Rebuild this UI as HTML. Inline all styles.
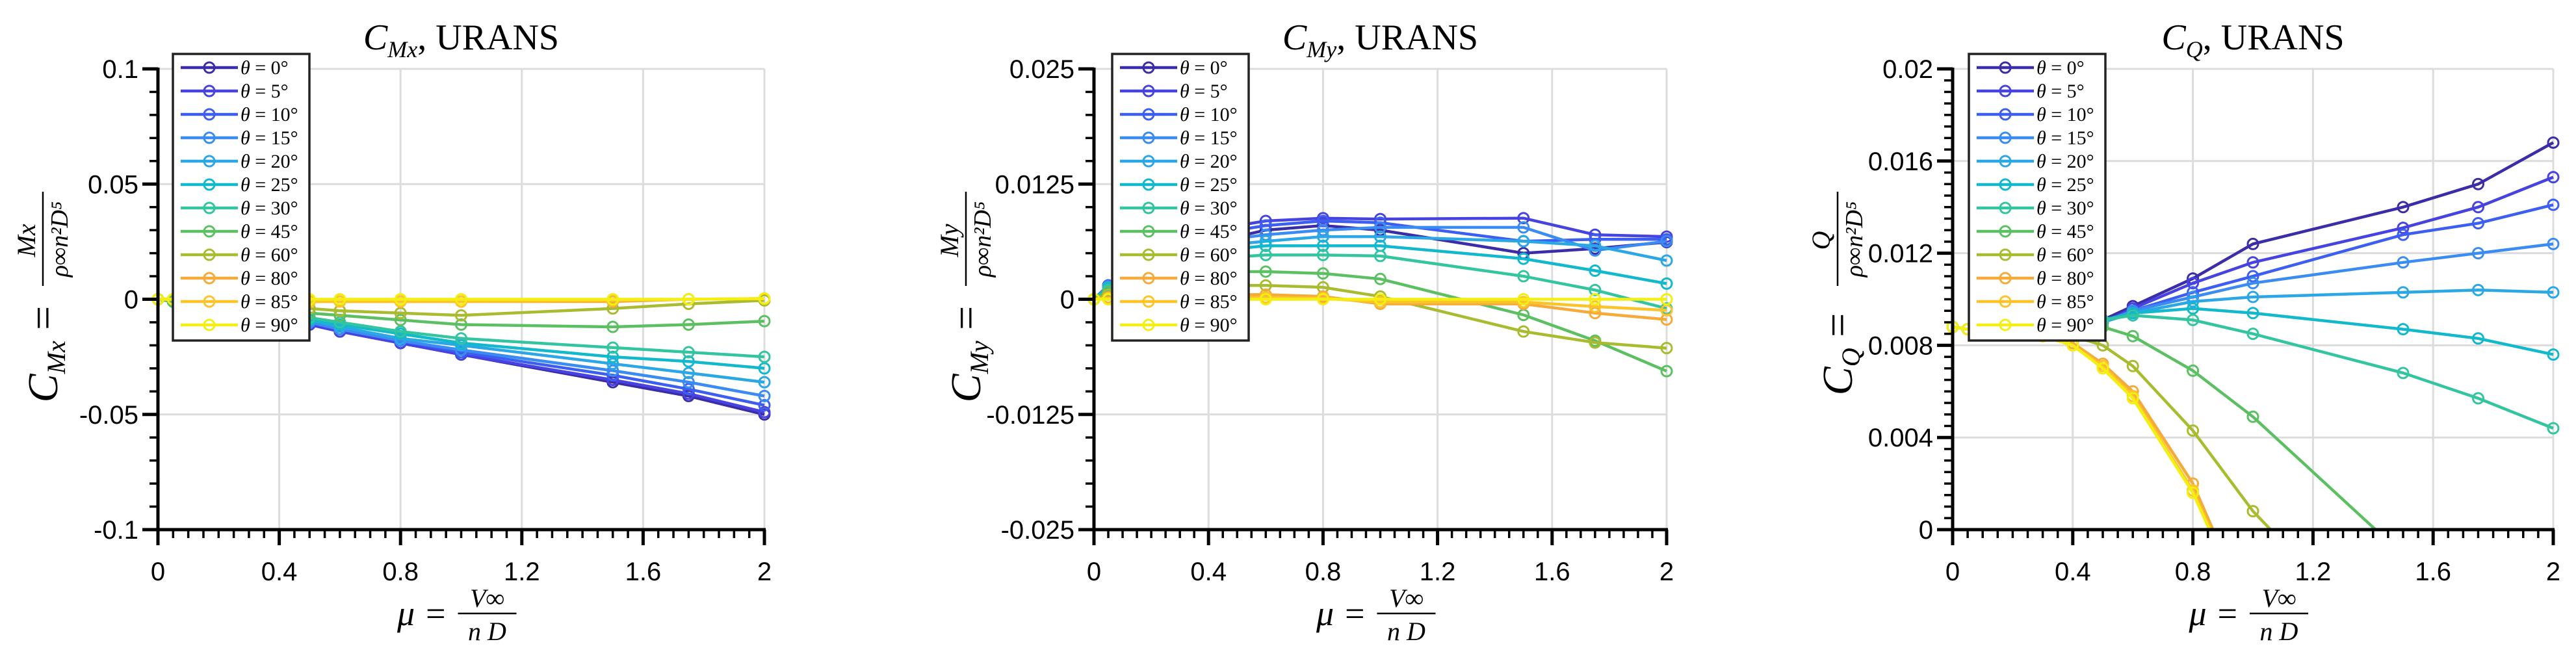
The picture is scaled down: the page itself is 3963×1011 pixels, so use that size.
<!DOCTYPE html>
<html><head><meta charset="utf-8"><style>
html,body{margin:0;padding:0;background:#fff;width:3963px;height:1011px;overflow:hidden;}
svg{display:block;}
</style></head><body>
<svg id="chart" xmlns="http://www.w3.org/2000/svg" width="3963" height="1011" viewBox="0 0 3963 1011"></svg>
<script>
const mu = [0,0.05,0.1,0.2,0.3,0.4,0.5,0.6,0.8,1.0,1.5,1.75,2];
const thetaLabels = ["0","5","10","15","20","25","30","45","60","80","85","90"];
const colors = ["#3b2ca8","#4743e0","#3c5ff2","#3a8cf3","#2ba7e6","#12b8cc","#33c4a0","#5cc063","#a9bb2e","#f5aa3a","#fbc429","#f3ef12"];

const cmx0=[0,-0.001,-0.002,-0.004,-0.006,-0.008,-0.011,-0.014,-0.019,-0.024,-0.036,-0.042,-0.050];
const cmx5=[0,-0.001,-0.002,-0.004,-0.006,-0.008,-0.011,-0.014,-0.019,-0.024,-0.035,-0.041,-0.049];
const cmx10=[0,-0.001,-0.002,-0.004,-0.006,-0.008,-0.010,-0.013,-0.018,-0.023,-0.033,-0.039,-0.046];
const cmx15=[0,-0.001,-0.002,-0.004,-0.006,-0.008,-0.010,-0.013,-0.018,-0.022,-0.031,-0.036,-0.042];
const cmx20=[0,-0.001,-0.002,-0.004,-0.005,-0.007,-0.009,-0.012,-0.017,-0.020,-0.028,-0.032,-0.036];
const cmx25=[0,-0.001,-0.002,-0.003,-0.005,-0.007,-0.009,-0.011,-0.015,-0.019,-0.025,-0.027,-0.030];
const cmx30=[0,-0.001,-0.002,-0.003,-0.005,-0.006,-0.008,-0.010,-0.014,-0.017,-0.021,-0.023,-0.025];
const cmx45=[0,-0.001,-0.001,-0.002,-0.003,-0.004,-0.006,-0.007,-0.009,-0.011,-0.012,-0.011,-0.0095];
const cmx60=[0,0,-0.001,-0.001,-0.002,-0.003,-0.004,-0.005,-0.006,-0.007,-0.004,-0.002,-0.0005];
const cmx80=[0,0,0,0,-0.001,-0.001,-0.001,-0.001,-0.001,-0.001,-0.001,0,0.0002];
const cmx85=[0,0,0,0,0,-0.001,-0.001,-0.001,-0.001,-0.001,-0.0005,0,0.0003];
const cmx90=[0,0,0,0,0,0,0,0,0,0,0,0,0.0003];

const cmy0=[0,0.0015,0.0025,0.004,0.005,0.006,0.0068,0.0075,0.008,0.0075,0.005,0.0055,0.0062];
const cmy5=[0,0.0015,0.003,0.005,0.006,0.007,0.008,0.0085,0.0088,0.0087,0.0088,0.007,0.0068];
const cmy10=[0,0.0015,0.003,0.0045,0.0055,0.0065,0.0075,0.008,0.0085,0.0083,0.0063,0.0065,0.0065];
const cmy15=[0,0.0014,0.0028,0.004,0.005,0.006,0.0066,0.007,0.0075,0.0078,0.0078,0.0053,0.0063];
const cmy20=[0,0.0013,0.0025,0.0037,0.0046,0.0054,0.006,0.0063,0.0068,0.0068,0.0063,0.0058,0.0042];
const cmy25=[0,0.0012,0.0023,0.0034,0.0042,0.0049,0.0055,0.0058,0.0058,0.0058,0.0044,0.0031,0.0017];
const cmy30=[0,0.001,0.002,0.003,0.0037,0.0042,0.0046,0.0048,0.0048,0.0047,0.0025,0.001,-0.001];
const cmy45=[0,0.0008,0.0014,0.002,0.0025,0.0028,0.003,0.003,0.0028,0.0022,-0.0017,-0.0045,-0.0078];
const cmy60=[0,0.0005,0.0008,0.0011,0.0013,0.0014,0.0015,0.0015,0.0013,0.0003,-0.0035,-0.0047,-0.0053];
const cmy80=[0,0.0002,0.0003,0.0004,0.0004,0.0005,0.0005,0.0005,0.0003,-0.0005,-0.0005,-0.0015,-0.0022];
const cmy85=[0,0.0001,0.0001,0.0002,0.0002,0.0002,0.0002,0.0002,0.0001,-0.0003,-0.0003,-0.0008,-0.0012];
const cmy90=[0,0,0,0,0,0,0,0,0,0,0,0,0];

const cq0=[0.0088,0.0087,0.0087,0.0087,0.0088,0.0089,0.0091,0.0097,0.0109,0.0124,0.0140,0.0150,0.0168];
const cq5=[0.0088,0.0087,0.0087,0.0087,0.0088,0.0089,0.0090,0.0096,0.0107,0.0116,0.0131,0.0140,0.0153];
const cq10=[0.0088,0.0087,0.0087,0.0087,0.0088,0.0089,0.0090,0.0095,0.0103,0.0110,0.0128,0.0133,0.0141];
const cq15=[0.0088,0.0087,0.0087,0.0087,0.0088,0.0089,0.0090,0.0095,0.0101,0.0107,0.0116,0.0120,0.0124];
const cq20=[0.0088,0.0087,0.0087,0.0087,0.0088,0.0089,0.0090,0.0094,0.0099,0.0101,0.0103,0.0104,0.0103];
const cq25=[0.0088,0.0087,0.0087,0.0087,0.0088,0.0089,0.0091,0.0094,0.0096,0.0094,0.0087,0.0083,0.0076];
const cq30=[0.0088,0.0087,0.0087,0.0087,0.0088,0.0089,0.0091,0.0093,0.0091,0.0085,0.0068,0.0057,0.0044];
const cq45=[0.0088,0.0087,0.0087,0.0087,0.0087,0.0088,0.0088,0.0084,0.0069,0.0049,-0.0011,-0.004,-0.007];
const cq60=[0.0088,0.0087,0.0087,0.0087,0.0086,0.0084,0.0080,0.0071,0.0043,0.0008,-0.006,-0.010,-0.014];
const cq80=[0.0088,0.0087,0.0087,0.0086,0.0084,0.0081,0.0072,0.0060,0.0020,-0.004,-0.015,-0.020,-0.025];
const cq85=[0.0088,0.0087,0.0087,0.0086,0.0084,0.0080,0.0071,0.0058,0.0017,-0.004,-0.015,-0.020,-0.025];
const cq90=[0.0088,0.0087,0.0087,0.0086,0.0084,0.0080,0.0070,0.0057,0.0016,-0.0042,-0.015,-0.020,-0.025];

const xTicks=[0,0.4,0.8,1.2,1.6,2];
const xTickLabels=["0","0.4","0.8","1.2","1.6","2"];
const cmxTicks=[0.1,0.05,0,-0.05,-0.1];
const cmxTickLabels=["0.1","0.05","0","-0.05","-0.1"];
const cmyTicks=[0.025,0.0125,0,-0.0125,-0.025];
const cmyTickLabels=["0.025","0.0125","0","-0.0125","-0.025"];
const cqTicks=[0.02,0.016,0.012,0.008,0.004,0];
const cqTickLabels=["0.02","0.016","0.012","0.008","0.004","0"];

const NS="http://www.w3.org/2000/svg";
const svg=document.getElementById('chart');
function el(tag,attrs,parent){const e=document.createElementNS(NS,tag);for(const k in attrs)e.setAttribute(k,attrs[k]);(parent||svg).appendChild(e);return e;}

function panel(cfg){
  const g=el('g',{});
  
  
  const X=v=>cfg.x0+(v-0)/(2-0)*(cfg.x1-cfg.x0);
  const Y=v=>cfg.yb+(v-cfg.ymin)/(cfg.ymax-cfg.ymin)*(cfg.yt-cfg.yb);
  xTicks.forEach(t=>{const l=el('line',{x1:X(t),x2:X(t),y1:cfg.yt,y2:cfg.yb,stroke:'#dcdcdc','stroke-width':3},g);});
  cfg.yticks.forEach(t=>{const l=el('line',{x1:cfg.x0,x2:cfg.x1,y1:Y(t),y2:Y(t),stroke:'#dcdcdc','stroke-width':3},g);});
  const cid='clip-'+cfg.name;
  const cp=el('clipPath',{id:cid},g);el('rect',{x:cfg.x0-10,y:cfg.yt-10,width:cfg.x1-cfg.x0+20,height:cfg.yb-cfg.yt+10},cp);
  const sg=el('g',{'clip-path':'url(#'+cid+')'},g);
  cfg.series.forEach((s,i)=>{
    const pts=mu.map((m,j)=>X(m).toFixed(1)+','+Y(s[j]).toFixed(1)).join(' ');
    const pl=el('polyline',{points:pts,fill:'none',stroke:colors[i],'stroke-width':4.5},sg);
    
    
    mu.forEach((m,j)=>{
      if(s[j]<cfg.ymin-1e-9||s[j]>cfg.ymax)return;
      const c=el('circle',{cx:X(m),cy:Y(s[j]),r:8,fill:'none',stroke:colors[i],'stroke-width':3},sg);
      
      
    });
  });
  const ax=el('line',{x1:cfg.x0,x2:cfg.x0,y1:cfg.yt-2,y2:cfg.yb+2,stroke:'#000','stroke-width':5},g);
  
  const bx=el('line',{x1:cfg.x0-2,x2:cfg.x1+2,y1:cfg.yb,y2:cfg.yb,stroke:'#000','stroke-width':5},g);
  
  for(let k=0;k<=40;k++){const v=k*0.05;const len=(k%8===0)?24:13;el('line',{x1:X(v),x2:X(v),y1:cfg.yb,y2:cfg.yb+len,stroke:'#000','stroke-width':(k%8===0)?5:3.5},g);}
  const nMinor=Math.round((cfg.ymax-cfg.ymin)/cfg.yminor);
  for(let k=0;k<=nMinor;k++){const v=cfg.ymin+k*cfg.yminor;const major=cfg.yticks.some(t=>Math.abs(t-v)<1e-9);el('line',{x1:cfg.x0-(major?24:13),x2:cfg.x0,y1:Y(v),y2:Y(v),stroke:'#000','stroke-width':major?5:3.5},g);}
  xTicks.forEach((t,i)=>{const tx=el('text',{x:X(t),y:cfg.yb+78,'text-anchor':'middle','font-family':'Liberation Sans, sans-serif','font-size':40},g);tx.textContent=xTickLabels[i];});
  cfg.yticks.forEach((t,i)=>{const tx=el('text',{x:cfg.x0-30,y:Y(t)+14,'text-anchor':'end','font-family':'Liberation Sans, sans-serif','font-size':40},g);tx.textContent=cfg.ylabels[i];});
  const cx=(cfg.x0+cfg.x1)/2;
  const ti=el('text',{x:cx,y:76,'text-anchor':'middle','font-family':'Liberation Serif, serif','font-size':56},g);
  ti.innerHTML='<tspan font-style="italic">C</tspan><tspan font-style="italic" font-size="36" dy="12">'+cfg.sub+'</tspan><tspan dy="-12">, URANS</tspan>';
  
  const xl=el('g',{},g);
  const xt=el('text',{x:cx-60,y:962,'font-family':'Liberation Serif, serif','font-size':54,'font-style':'italic','text-anchor':'middle'},xl);xt.textContent='μ =';
  const xn=el('text',{x:cx+40,y:934,'font-family':'Liberation Serif, serif','font-size':40,'font-style':'italic','text-anchor':'middle'},xl);xn.textContent='V∞';
  el('line',{x1:cx-5,x2:cx+85,y1:944,y2:944,stroke:'#000','stroke-width':2.5},xl);
  const xd=el('text',{x:cx+40,y:985,'font-family':'Liberation Serif, serif','font-size':40,'font-style':'italic','text-anchor':'middle'},xl);xd.textContent='n  D';
  const ycx=cfg.x0-cfg.ylabOff, ycy=465;
  const yl=el('g',{transform:'rotate(-90 '+ycx+' '+ycy+')'},g);
  const y1=el('text',{x:ycx-80,y:ycy+20,'font-family':'Liberation Serif, serif','font-size':66,'text-anchor':'middle'},yl);
  y1.innerHTML='<tspan font-style="italic">C</tspan><tspan font-style="italic" font-size="40" dy="12">'+cfg.sub+'</tspan><tspan dy="-12"> =</tspan>';
  const y2=el('text',{x:ycx+95,y:ycy-14,'font-family':'Liberation Serif, serif','font-size':40,'font-style':'italic','text-anchor':'middle'},yl);y2.textContent=cfg.num;
  el('line',{x1:ycx+25,x2:ycx+170,y1:ycy-2,y2:ycy-2,stroke:'#000','stroke-width':2.5},yl);
  const y3=el('text',{x:ycx+97,y:ycy+36,'font-family':'Liberation Serif, serif','font-size':38,'font-style':'italic','text-anchor':'middle'},yl);y3.textContent='ρ∞n²D⁵';
  const lg=el('g',{},g);
  el('rect',{x:cfg.lx,y:83,width:210,height:441,fill:'#fff',stroke:'#222','stroke-width':3.5},lg);
  thetaLabels.forEach((t,i)=>{
    const yy=104+i*36;
    const en=el('g',{},lg);
    el('line',{x1:cfg.lx+12,x2:cfg.lx+100,y1:yy,y2:yy,stroke:colors[i],'stroke-width':4.5},en);
    el('circle',{cx:cfg.lx+56,cy:yy,r:8,fill:'none',stroke:colors[i],'stroke-width':3},en);
    const tx=el('text',{x:cfg.lx+104,y:yy+10,'font-family':'Liberation Serif, serif','font-size':30},en);
    tx.innerHTML='<tspan font-style="italic">θ</tspan> = '+t+'°';
  });
}
panel({name:'cmx',x0:243,x1:1176,yt:106,yb:815,ymin:-0.1,ymax:0.1,yminor:0.01,yticks:cmxTicks,ylabels:cmxTickLabels,sub:'Mx',num:'Mx',lx:266,ylabOff:175,
  series:[cmx0,cmx5,cmx10,cmx15,cmx20,cmx25,cmx30,cmx45,cmx60,cmx80,cmx85,cmx90]});
panel({name:'cmy',x0:1683,x1:2564,yt:106,yb:815,ymin:-0.025,ymax:0.025,yminor:0.0025,yticks:cmyTicks,ylabels:cmyTickLabels,sub:'My',num:'My',lx:1711,ylabOff:195,
  series:[cmy0,cmy5,cmy10,cmy15,cmy20,cmy25,cmy30,cmy45,cmy60,cmy80,cmy85,cmy90]});
panel({name:'cq',x0:3004,x1:3928,yt:106,yb:815,ymin:0,ymax:0.02,yminor:0.0005,yticks:cqTicks,ylabels:cqTickLabels,sub:'Q',num:'Q',lx:3029,ylabOff:175,
  series:[cq0,cq5,cq10,cq15,cq20,cq25,cq30,cq45,cq60,cq80,cq85,cq90]});
</script>
</body></html>
